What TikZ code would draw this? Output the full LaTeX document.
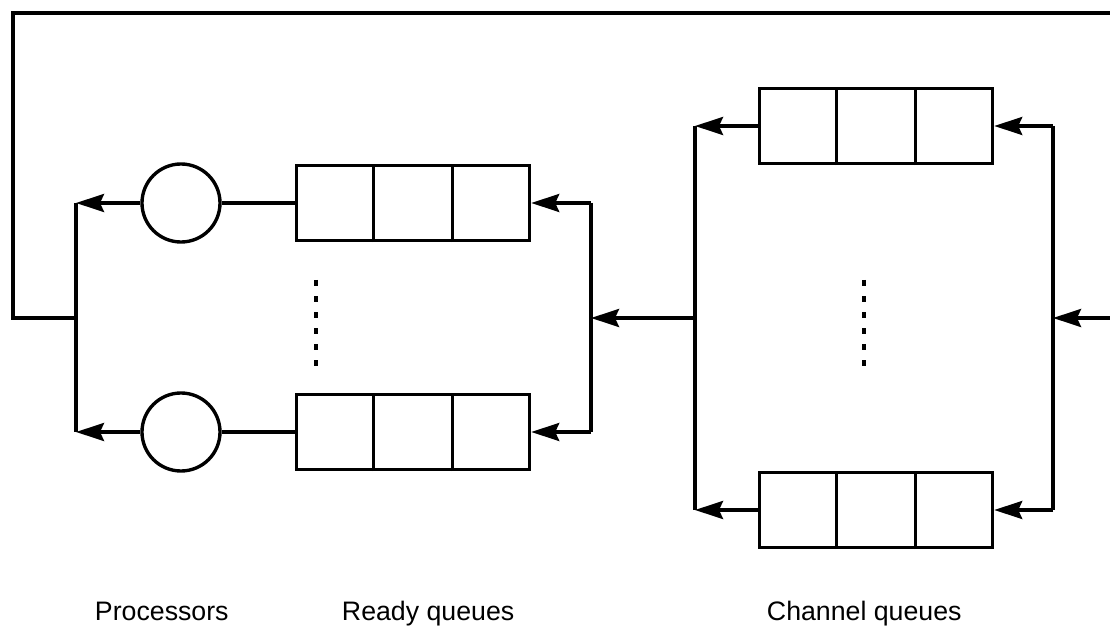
\documentclass[tikz,border=0pt]{standalone}
\usepackage{fontspec}
\setmainfont{Liberation Sans}
\usetikzlibrary{arrows.meta, calc, positioning}
\tikzset{
    QueueBox/.style={draw, line width=2.4pt, minimum width=5.825cm, minimum height=1.875cm, inner sep=0pt},
    ProcCircle/.style={draw, circle, line width=2.4pt, minimum size=1.95cm, inner sep=0pt},
    FlowLine/.style={line width=2.4pt},
    FlowArrow/.style={-{Stealth[length=0.7cm, width=0.45cm, inset=0.1cm]}, line width=2.4pt},
    DotLine/.style={line width=2.4pt, dash pattern=on 0.15cm off 0.25cm},
    CaptionText/.style={font=\fontsize{19}{22}\selectfont}
}

\begin{document}
\begin{tikzpicture}[x=0.025cm, y=-0.025cm]
    \useasboundingbox (0,0) rectangle (1110,628);

    % processors
    \node[ProcCircle] (proc1) at (181,203) {};
    \node[ProcCircle] (proc2) at (181,432) {};

    % ready queues
    \node[QueueBox] (rq1) at (413,203) {};
    \node[QueueBox] (rq2) at (413,432) {};

    % channel queues
    \node[QueueBox] (cq1) at (876,126) {};
    \node[QueueBox] (cq2) at (876,510) {};

    \foreach \q in {rq1,rq2,cq1,cq2} {
        \foreach \f in {1,2} {
            \draw[FlowLine] ($(\q.south west)!\f/3!(\q.south east)$) -- ($(\q.north west)!\f/3!(\q.north east)$);
        }
    }

    % bus corners
    \coordinate (pb1) at (76,203);
    \coordinate (pb2) at (76,432);
    \coordinate (pbm) at (76,318);
    \coordinate (rb1) at (591,203);
    \coordinate (rb2) at (591,432);
    \coordinate (rbm) at (591,318);
    \coordinate (cl1) at (695,126);
    \coordinate (cl2) at (695,510);
    \coordinate (clm) at (695,318);
    \coordinate (cr1) at (1053,126);
    \coordinate (cr2) at (1053,510);
    \coordinate (crm) at (1053,318);
    \coordinate (feedin) at (1110,318);
    \coordinate (loopr) at (1110,13);
    \coordinate (looptl) at (13,13);
    \coordinate (loopbl) at (13,318);

    % feedback loop
    \draw[FlowLine] (loopr) -- (looptl) -- (loopbl) -- (pbm);

    % processors to bus
    \draw[FlowLine] (pb1) -- (pb2);
    \draw[FlowArrow] (proc1) -- (pb1);
    \draw[FlowArrow] (proc2) -- (pb2);
    \draw[FlowLine] (rq1) -- (proc1);
    \draw[FlowLine] (rq2) -- (proc2);

    % ready bus
    \draw[FlowLine] (rb1) -- (rb2);
    \draw[FlowArrow] (rb1) -- (rq1);
    \draw[FlowArrow] (rb2) -- (rq2);
    \draw[FlowArrow] (clm) -- (rbm);

    % channel buses
    \draw[FlowLine] (cl1) -- (cl2);
    \draw[FlowArrow] (cq1) -- (cl1);
    \draw[FlowArrow] (cq2) -- (cl2);
    \draw[FlowLine] (cr1) -- (cr2);
    \draw[FlowArrow] (cr1) -- (cq1);
    \draw[FlowArrow] (cr2) -- (cq2);
    \draw[FlowArrow] (feedin) -- (crm);

    % ellipses
    \draw[DotLine] (316,280) -- (316,372);
    \draw[DotLine] (864,280) -- (864,372);

    % captions
    \node[CaptionText, anchor=base west] (lproc) at (90,620) {Processors};
    \node[CaptionText, anchor=base west] (lready) at (337,620) {Ready queues};
    \node[CaptionText, anchor=base west] (lchan) at (762,620) {Channel queues};
\end{tikzpicture}
\end{document}
